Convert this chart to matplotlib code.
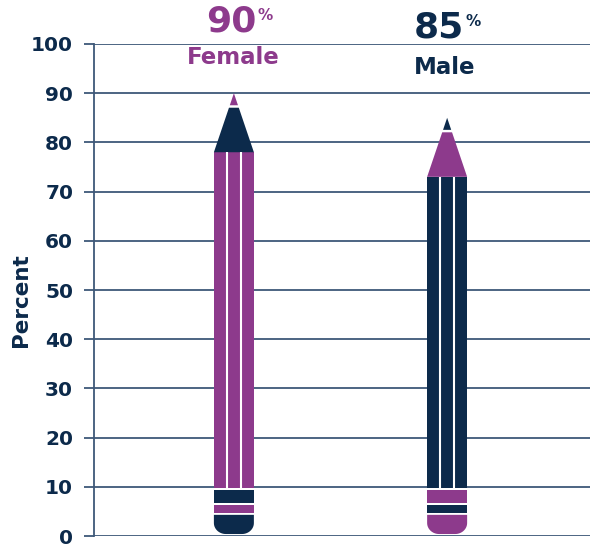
import numpy as np
import matplotlib
matplotlib.use("Agg")
import matplotlib.pyplot as plt
from matplotlib.patches import Polygon, Rectangle, PathPatch
from matplotlib.path import Path

categories = ["Female", "Male"]
values = [90, 85]
yticks = [0, 10, 20, 30, 40, 50, 60, 70, 80, 90, 100]
ylabel = "Percent"

MAGENTA = "#8D3A8C"
NAVY = "#0C2A4B"
GRID = "#3E5878"

fig = plt.figure(figsize=(5.93, 5.46), dpi=100)
ax = fig.add_axes([94 / 593, 10 / 546, 496 / 593, 492 / 546])
ax.set_ylim(0, 100)
ax.set_xlim(-0.656, 1.670)

for t in yticks:
    ax.axhline(t, color=GRID, lw=1.3, zorder=1)

ax.set_yticks(yticks)
ax.set_yticklabels([str(t) for t in yticks], fontsize=14.5, fontweight="bold", color=NAVY)
ax.tick_params(axis="y", length=7, width=1.3, color=GRID, pad=8)
ax.set_xticks([])
for s in ["top", "right", "bottom"]:
    ax.spines[s].set_visible(False)
ax.spines["left"].set_color(GRID)
ax.spines["left"].set_linewidth(1.3)
fig.text(21 / 593, 1 - 300 / 546, ylabel, fontsize=15.5, fontweight="bold", color=NAVY,
         rotation=90, ha="center", va="center")

W = 40 / 496 * 2.326  # pencil width in data units
px_x = 2.326 / 496
px_y = 100 / 492


def rounded_bottom(x0, x1, y0, y1, rx, ry, n=16):
    verts = [(x0, y1)]
    th = np.linspace(np.pi, 1.5 * np.pi, n)
    cx, cy = x0 + rx, y0 + ry
    verts += list(zip(cx + rx * np.cos(th), cy + ry * np.sin(th)))
    th = np.linspace(1.5 * np.pi, 2 * np.pi, n)
    cx = x1 - rx
    verts += list(zip(cx + rx * np.cos(th), cy + ry * np.sin(th)))
    verts += [(x1, y1), (x0, y1)]
    codes = [Path.MOVETO] + [Path.LINETO] * (len(verts) - 2) + [Path.CLOSEPOLY]
    return Path(verts, codes)


for i, (cat, v) in enumerate(zip(categories, values)):
    main = MAGENTA if i == 0 else NAVY
    alt = NAVY if i == 0 else MAGENTA
    x0, x1 = i - W / 2, i + W / 2
    body_top = v - 12
    split = v - 2.7
    # eraser
    ax.add_patch(PathPatch(rounded_bottom(x0, x1, 0.4, 4.3, 12 * px_x, 11 * px_y),
                           fc=alt, ec="none", zorder=3))
    ax.add_patch(Rectangle((x0, 4.7), W, 1.6, fc=main, ec="none", zorder=3))
    ax.add_patch(Rectangle((x0, 6.8), W, 2.5, fc=alt, ec="none", zorder=3))
    # body
    ax.add_patch(Rectangle((x0, 9.75), W, body_top - 9.75, fc=main, ec="none", zorder=3))
    for f in (1 / 3, 2 / 3):
        xs = x0 + f * W
        ax.plot([xs, xs], [9.75, body_top], color="white", lw=1.5, zorder=4,
                solid_capstyle="butt")
    # cone
    def half(y):
        return (W / 2) * (v - y) / (v - body_top)
    y_top = split - 0.25
    ax.add_patch(Polygon([(x0, body_top), (x1, body_top), (i + half(y_top), y_top),
                          (i - half(y_top), y_top)], closed=True, fc=alt, ec="none", zorder=3))
    y_b = split + 0.25
    ax.add_patch(Polygon([(i - half(y_b), y_b), (i + half(y_b), y_b), (i, v)],
                         closed=True, fc=main, ec="none", zorder=3))

# top labels
fig.text(256 / 593, 1 - 22 / 546, "90", fontsize=26, fontweight="bold", color=MAGENTA,
         ha="right", va="center")
fig.text(257 / 593, 1 - 15 / 546, "%", fontsize=11, fontweight="bold", color=MAGENTA,
         ha="left", va="center")
fig.text(233 / 593, 1 - 58 / 546, "Female", fontsize=16.5, fontweight="bold", color=MAGENTA,
         ha="center", va="center")
fig.text(464 / 593, 1 - 28 / 546, "85", fontsize=26, fontweight="bold", color=NAVY,
         ha="right", va="center")
fig.text(465 / 593, 1 - 21 / 546, "%", fontsize=11, fontweight="bold", color=NAVY,
         ha="left", va="center")
fig.text(445 / 593, 1 - 67 / 546, "Male", fontsize=16.5, fontweight="bold", color=NAVY,
         ha="center", va="center")

fig.savefig("out.png", dpi=100)
